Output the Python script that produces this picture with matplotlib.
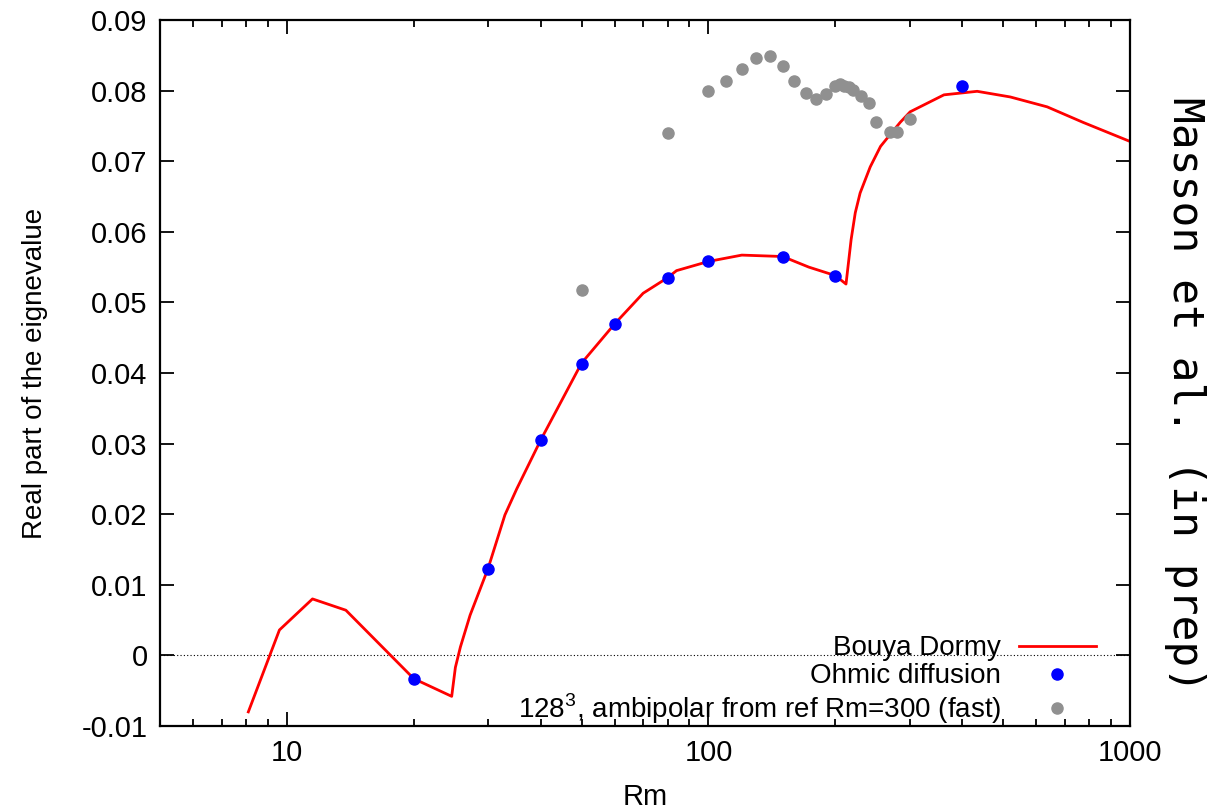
import matplotlib
matplotlib.use("Agg")
import matplotlib.pyplot as plt
from matplotlib.ticker import LogLocator, FixedLocator, FixedFormatter, NullFormatter

plt.rcParams["font.family"] = ["Liberation Sans", "DejaVu Sans"]

# Bouya & Dormy curve
bd_rm = [8.1, 9.6, 11.5, 13.8, 20, 24.6, 25.1, 25.8, 27.2, 30, 32.9, 35.1, 40,
         50, 60, 70, 80, 84, 100, 120, 150, 173, 200, 212, 218, 223, 229, 242,
         256, 270, 285, 301, 362, 434, 520, 636, 774, 1000]
bd_val = [-0.0080, 0.0036, 0.0080, 0.0064, -0.0033, -0.0058, -0.0017, 0.0012,
          0.0057, 0.0123, 0.0199, 0.0236, 0.0305, 0.0414, 0.0470, 0.0513,
          0.0535, 0.0545, 0.0558, 0.0567, 0.0565, 0.0550, 0.0538, 0.0526,
          0.0589, 0.0627, 0.0655, 0.0692, 0.0721, 0.0738, 0.0755, 0.0770,
          0.0794, 0.0799, 0.0791, 0.0777, 0.0755, 0.0728]

# Ohmic diffusion runs
ohm_rm = [20, 30, 40, 50, 60, 80, 100, 150, 200, 400]
ohm_val = [-0.0034, 0.0122, 0.0305, 0.0413, 0.0470, 0.0534, 0.0558, 0.0565,
           0.0538, 0.0806]

# 128^3 ambipolar runs
amb_rm = [50, 80, 100, 110, 120, 130, 140, 150, 160, 170, 180, 190, 200, 205,
          210, 215, 220, 230, 240, 250, 270, 280, 300]
amb_val = [0.0518, 0.0740, 0.0800, 0.0814, 0.0831, 0.0846, 0.0849, 0.0835,
           0.0814, 0.0796, 0.0788, 0.0795, 0.0806, 0.0809, 0.0807, 0.0805,
           0.0801, 0.0793, 0.0783, 0.0756, 0.0741, 0.0741, 0.0760]

x_ticks = [10, 100, 1000]
x_labels = ["10", "100", "1000"]
y_ticks = [-0.01, 0, 0.01, 0.02, 0.03, 0.04, 0.05, 0.06, 0.07, 0.08, 0.09]
y_labels = ["-0.01", "0", "0.01", "0.02", "0.03", "0.04", "0.05",
            "0.06", "0.07", "0.08", "0.09"]

fig = plt.figure(figsize=(12.14, 8.10), dpi=100)
ax = fig.add_axes([0.1318, 0.1037, 0.7990, 0.8716])

ax.axhline(0, color="black", lw=0.8, ls=(0, (1, 2)), zorder=1)
ax.plot(bd_rm, bd_val, color="#ff0000", lw=2.0, label="Bouya Dormy", zorder=2)
ax.plot(ohm_rm, ohm_val, ls="none", marker="o", ms=8, color="#0000ff",
        label="Ohmic diffusion", zorder=3)
ax.plot(amb_rm, amb_val, ls="none", marker="o", ms=8, color="#909090",
        label=r"128$^{\mathregular{3}}$, ambipolar from ref Rm=300 (fast)", zorder=3)

ax.set_xscale("log")
ax.set_xlim(5, 1000)
ax.set_ylim(-0.01, 0.09)
ax.xaxis.set_major_locator(FixedLocator(x_ticks))
ax.xaxis.set_major_formatter(FixedFormatter(x_labels))
ax.xaxis.set_minor_locator(LogLocator(base=10, subs=range(2, 10)))
ax.xaxis.set_minor_formatter(NullFormatter())
ax.set_yticks(y_ticks)
ax.set_yticklabels(y_labels)

ax.tick_params(which="both", direction="in", top=True, right=True,
               labelsize=21, width=1.3, pad=9)
ax.tick_params(which="major", length=10)
ax.tick_params(which="minor", length=5)
for s in ax.spines.values():
    s.set_linewidth(1.6)

ax.set_xlabel("Rm", fontsize=21, labelpad=12)
ax.set_ylabel("Real part of the eignevalue", fontsize=20, labelpad=24)

ax.legend(loc="lower right", frameon=False, markerfirst=False, alignment="right",
          fontsize=20, handlelength=2.75, handletextpad=0.65, labelspacing=0.08,
          borderaxespad=0.0, bbox_to_anchor=(0.976, -0.016))

fig.text(0.976, 0.513, "Masson et al. (in prep)", rotation=-90,
         ha="center", va="center", fontsize=31, family="DejaVu Sans Mono")

fig.savefig("out.png", dpi=100)
